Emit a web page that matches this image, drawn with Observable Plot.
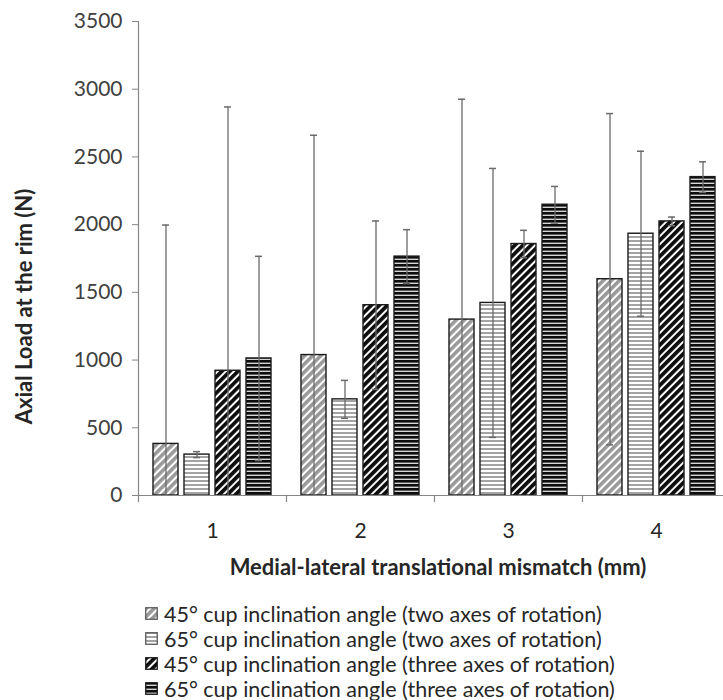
<!DOCTYPE html>
<html>
<head>
<meta charset="utf-8">
<script src="https://cdn.jsdelivr.net/npm/d3@7"></script>
<script src="https://cdn.jsdelivr.net/npm/@observablehq/plot@0.6"></script>
<style>
  html, body { margin: 0; padding: 0; background: #fff; overflow: hidden; }
  #chart svg { display: block; }
  #legend { font-family: Lato, "Open Sans", sans-serif; font-size: 21.5px; color: #262626; padding-top: 11px; margin-left: 145px; }
  .item { display: flex; align-items: center; height: 25px; white-space: nowrap; }
  .item svg { margin-right: 6px; flex: none; }
</style>
</head>
<body>
<div id="chart"></div>
<div id="legend"></div>
<script>
// ---- data ----
const categories = ["1", "2", "3", "4"];
const seriesNames = [
  "45° cup inclination angle (two axes of rotation)",
  "65° cup inclination angle (two axes of rotation)",
  "45° cup inclination angle (three axes of rotation)",
  "65° cup inclination angle (three axes of rotation)"
];
const mean45two   = [381, 1037, 1299, 1597];
const mean65two   = [302, 710, 1422, 1933];
const mean45three = [921, 1405, 1857, 2024];
const mean65three = [1012, 1764, 2147, 2351];
const err45two    = [1616, 1623, 1627, 1223];
const err65two    = [22, 140, 993, 609];
const err45three  = [1948, 622, 101, 32];
const err65three  = [754, 199, 135, 113];
const yTicks = [0, 500, 1000, 1500, 2000, 2500, 3000, 3500];
const xTitle = "Medial-lateral translational mismatch (mm)";
const yTitle = "Axial Load at the rim (N)";

const means = [mean45two, mean65two, mean45three, mean65three];
const errs = [err45two, err65two, err45three, err65three];
const rows = [];
seriesNames.forEach((s, i) => categories.forEach((c, j) => {
  rows.push({cat: c, series: s, idx: i, value: means[i][j], err: errs[i][j]});
}));

const axisGrey = "#868686";
const errGrey = "#6a6a6a";
const font = "Lato, 'Open Sans', sans-serif";

const plot = Plot.plot({
  width: 723,
  height: 590,
  marginTop: 21,
  marginLeft: 136,
  marginRight: 0,
  marginBottom: 95,
  style: {fontFamily: font, background: "#fff", overflow: "hidden"},
  fx: {domain: categories, range: [136, 731.6], padding: 0, label: null},
  x: {domain: seriesNames, paddingInner: 0.1875, paddingOuter: 0.42, axis: null},
  y: {domain: [0, 3500], label: null},
  color: {type: "identity"},
  marks: [
    Plot.barY(rows, {fx: "cat", x: "series", y: "value",
      fill: d => `url(#pat${d.idx})`, stroke: "#1a1a1a", strokeWidth: 1.4}),
    // error bars
    Plot.ruleX(rows, {fx: "cat", x: "series", y1: d => Math.max(0, d.value - d.err), y2: d => d.value + d.err,
      stroke: errGrey, strokeWidth: 1.3}),
    Plot.tickY(rows, {fx: "cat", x: "series", y: d => d.value + d.err,
      stroke: errGrey, strokeWidth: 1.5, insetLeft: 9, insetRight: 9}),
    Plot.tickY(rows.filter(d => d.value - d.err > 0), {fx: "cat", x: "series", y: d => d.value - d.err,
      stroke: errGrey, strokeWidth: 1.5, insetLeft: 9, insetRight: 9}),
    // axes lines
    Plot.ruleY([0], {stroke: axisGrey, strokeWidth: 1.2}),
    Plot.frame({anchor: "left", facet: "super", stroke: axisGrey, strokeWidth: 1.2}),
    Plot.frame({anchor: "left", stroke: axisGrey, strokeWidth: 1.2, insetTop: 474, insetBottom: -6}),
    Plot.axisY({ticks: yTicks, tickSize: 6, tickPadding: 10, stroke: axisGrey, fill: "#404040",
      fontSize: 21, label: null, tickFormat: d => String(d)}),
    Plot.axisFx({anchor: "bottom", tickSize: 0, tickPadding: 28, fill: "#262626", fontSize: 21, label: null}),
    Plot.text([xTitle], {frameAnchor: "bottom", facet: "super", dx: 3.5, dy: 72, lineAnchor: "middle",
      textAnchor: "middle", fontWeight: "bold", fontSize: 22, fill: "#262626"}),
    Plot.text([yTitle], {frameAnchor: "left", facet: "super", rotate: -90, dx: -114, dy: 48, lineAnchor: "middle",
      textAnchor: "middle", fontWeight: "bold", fontSize: 22, fill: "#262626"})
  ]
});

const patterns = `
<pattern id="pat0" patternUnits="userSpaceOnUse" width="5.7" height="5.7" patternTransform="rotate(45)">
  <rect width="5.7" height="5.7" fill="#ffffff"/><rect width="3.6" height="5.7" fill="#999999"/>
</pattern>
<pattern id="pat1" patternUnits="userSpaceOnUse" width="4" height="4">
  <rect width="4" height="4" fill="#ffffff"/><rect width="4" height="2" fill="#a3a3a3"/>
</pattern>
<pattern id="pat2" patternUnits="userSpaceOnUse" width="5.7" height="5.7" patternTransform="rotate(45)">
  <rect width="5.7" height="5.7" fill="#ffffff"/><rect width="3.7" height="5.7" fill="#0d0d0d"/>
</pattern>
<pattern id="pat3" patternUnits="userSpaceOnUse" width="4" height="4">
  <rect width="4" height="4" fill="#d6d6d6"/><rect width="4" height="2.6" fill="#0d0d0d"/>
</pattern>`;
d3.select(plot).insert("defs", ":first-child").html(patterns);
document.getElementById("chart").appendChild(plot);

// legend
const legend = d3.select("#legend");
seriesNames.forEach((s, i) => {
  const item = legend.append("div").attr("class", "item");
  item.append("svg").attr("width", 13).attr("height", 13)
    .append("rect").attr("x", 0.75).attr("y", 0.75).attr("width", 11.5).attr("height", 11.5)
    .attr("fill", `url(#pat${i})`).attr("stroke", i < 2 ? "#595959" : "#1a1a1a").attr("stroke-width", 1.3);
  item.append("span").text(s);
});
</script>
</body>
</html>
